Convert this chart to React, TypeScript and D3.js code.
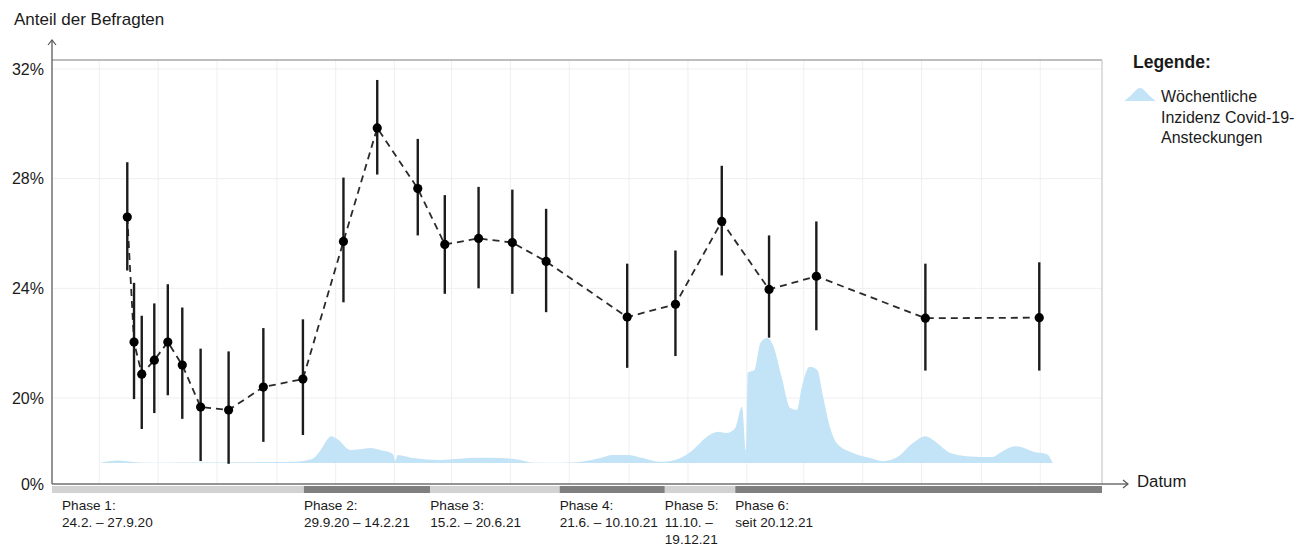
import React from 'react';
import * as d3 from 'd3';

// ---------- data ----------
const surveyDates = [
  '2020-03-30', '2020-04-06', '2020-04-14', '2020-04-27', '2020-05-11', '2020-05-26',
  '2020-06-14', '2020-07-13', '2020-08-18', '2020-09-28', '2020-11-09', '2020-12-14',
  '2021-01-25', '2021-02-22', '2021-03-29', '2021-05-03', '2021-06-07', '2021-08-30',
  '2021-10-19', '2021-12-06', '2022-01-24', '2022-03-14', '2022-07-05', '2022-10-31',
];
const shares = [
  26.6, 22.04, 20.87, 21.38, 22.04, 21.2, 19.67, 19.56, 20.4, 20.69, 25.71, 29.85,
  27.64, 25.6, 25.82, 25.67, 24.98, 22.95, 23.42, 26.44, 23.96, 24.44, 22.91, 22.93,
];
const ciLow = [
  24.65, 19.96, 18.87, 19.45, 20.1, 19.24, 17.7, 17.6, 18.4, 18.65, 23.49, 28.15,
  25.93, 23.8, 24.0, 23.8, 23.13, 21.1, 21.53, 24.47, 22.2, 22.47, 21.0, 21.0,
];
const ciHigh = [
  28.6, 24.2, 23.0, 23.45, 24.15, 23.3, 21.8, 21.7, 22.55, 22.87, 28.04, 31.6,
  29.45, 27.4, 27.7, 27.6, 26.9, 24.9, 25.38, 28.47, 25.93, 26.44, 24.9, 24.95,
];

const incidenceDates = [
  '2020-03-03', '2020-03-12', '2020-03-20', '2020-03-29', '2020-04-12', '2020-05-03',
  '2020-06-13', '2020-07-25', '2020-08-25', '2020-09-20', '2020-10-07', '2020-10-16',
  '2020-10-22', '2020-10-27', '2020-11-03', '2020-11-16', '2020-11-26', '2020-12-07',
  '2020-12-17', '2020-12-30', '2021-01-02', '2021-01-04', '2021-01-20', '2021-02-17',
  '2021-03-10', '2021-03-27', '2021-04-20', '2021-05-11', '2021-05-24', '2021-06-14',
  '2021-07-02', '2021-07-15', '2021-08-02', '2021-08-15', '2021-08-30', '2021-09-15',
  '2021-09-28', '2021-10-06', '2021-10-24', '2021-11-06', '2021-11-19', '2021-11-27',
  '2021-12-02', '2021-12-11', '2021-12-20', '2021-12-27', '2021-12-31', '2022-01-02',
  '2022-01-09', '2022-01-15', '2022-01-22', '2022-01-28', '2022-02-06', '2022-02-15',
  '2022-02-22', '2022-02-27', '2022-03-07', '2022-03-15', '2022-03-21', '2022-03-28',
  '2022-04-04', '2022-04-21', '2022-05-09', '2022-05-22', '2022-06-06', '2022-06-22',
  '2022-07-05', '2022-07-13', '2022-07-31', '2022-08-17', '2022-09-13', '2022-09-20',
  '2022-10-06', '2022-10-11', '2022-10-25', '2022-11-08', '2022-11-14',
];
const incidenceValues = [
  10, 30, 40, 30, 10, 5,
  8, 12, 15, 20, 60, 200,
  350, 430, 380, 210, 220, 240,
  210, 150, 40, 130, 80, 50,
  70, 85, 80, 50, 10, 4,
  8, 25, 80, 130, 130, 80,
  30, 20, 80, 210, 400, 480,
  500, 480, 560, 900, 200, 1450,
  1490, 1920, 2000, 1890, 1380, 880,
  850, 1220, 1540, 1490, 1060, 580,
  320, 160, 80, 30, 95, 320,
  430, 370, 160, 110, 95, 160,
  270, 260, 180, 140, 0,
];

const yTickValues = [20, 24, 28, 32];
const bottomTickLabel = '0%';

const phaseStarts = ['2020-02-24', '2020-09-29', '2021-02-07', '2021-06-21', '2021-10-08', '2021-12-20'];
const phaseLabels = [
  ['Phase 1:', '24.2. – 27.9.20'],
  ['Phase 2:', '29.9.20 – 14.2.21'],
  ['Phase 3:', '15.2. – 20.6.21'],
  ['Phase 4:', '21.6. – 10.10.21'],
  ['Phase 5:', '11.10. –', '19.12.21'],
  ['Phase 6:', 'seit 20.12.21'],
];
const legendLines = ['Wöchentliche', 'Inzidenz Covid-19-', 'Ansteckungen'];

// ---------- layout ----------
const W = 1306;
const H = 546;
const left = 52;
const right = 1102;
const top = 60;
const bottom = 484;
const font = '"Liberation Sans", Arial, Helvetica, sans-serif';
const textColor = '#1a1a1a';

const parse = d3.timeParse('%Y-%m-%d');

export default function App() {
  const x = d3.scaleTime().domain([new Date(2020, 0, 12), new Date(2023, 0, 4)]).range([left, right]);
  const y = d3.scaleLinear().domain([20, 32]).range([398, 69]);
  const yInc = d3.scaleLinear().domain([0, 2000]).range([463, 338]);

  const gridDates = d3.timeMonth.every(2)!.range(new Date(2020, 0, 12), new Date(2022, 11, 31));

  const survey = surveyDates.map((d, i) => ({
    date: parse(d)!,
    v: shares[i],
    lo: ciLow[i],
    hi: ciHigh[i],
  }));
  const inc = incidenceDates.map((d, i) => ({ date: parse(d)!, v: incidenceValues[i] }));

  const areaGen = d3
    .area<{ date: Date; v: number }>()
    .x((d) => x(d.date))
    .y0(yInc(0))
    .y1((d) => yInc(d.v))
    .curve(d3.curveMonotoneX);

  const lineGen = d3
    .line<{ date: Date; v: number }>()
    .x((d) => x(d.date))
    .y((d) => y(d.v));

  const phaseX = phaseStarts.map((d, i) => (i === 0 ? left : x(parse(d)!)));
  const phaseColors = ['#d2d2d2', '#7f7f7f'];

  return (
    <svg
      width={W}
      height={H}
      style={{ position: 'absolute', left: 0, top: 0, background: '#fff' }}
      fontFamily={font}
    >
      {/* y axis title */}
      <text x={14} y={25} fontSize={17} fill={textColor}>
        Anteil der Befragten
      </text>

      {/* vertical grid */}
      {gridDates.map((d, i) => (
        <line key={'vg' + i} x1={x(d)} x2={x(d)} y1={top} y2={bottom} stroke="#efefef" strokeWidth={1} />
      ))}
      {/* horizontal grid */}
      {yTickValues.map((t) => (
        <line key={'hg' + t} x1={left} x2={right} y1={y(t)} y2={y(t)} stroke="#efefef" strokeWidth={1} />
      ))}

      {/* frame */}
      <line x1={left} x2={right} y1={top} y2={top} stroke="#a8a8a8" strokeWidth={1.5} />
      <line x1={right} x2={right} y1={top} y2={bottom} stroke="#c8c8c8" strokeWidth={1.2} />

      {/* incidence area */}
      <path d={areaGen(inc) || ''} fill="#c3e3f6" />

      {/* dashed line */}
      <path d={lineGen(survey) || ''} fill="none" stroke="#2a2a2a" strokeWidth={1.8} strokeDasharray="7 5" />

      {/* error bars */}
      {survey.map((d, i) => (
        <line
          key={'eb' + i}
          x1={x(d.date)}
          x2={x(d.date)}
          y1={y(d.lo)}
          y2={y(d.hi)}
          stroke="#1c1c1c"
          strokeWidth={2.4}
        />
      ))}
      {/* points */}
      {survey.map((d, i) => (
        <circle key={'pt' + i} cx={x(d.date)} cy={y(d.v)} r={4.6} fill="#000" />
      ))}

      {/* y axis */}
      <line x1={left} x2={left} y1={40} y2={bottom} stroke="#707070" strokeWidth={1.5} />
      <path d={`M${left - 4},${45} L${left},${40} L${left + 4},${45}`} fill="none" stroke="#555" strokeWidth={1.2} />
      {yTickValues.map((t) => (
        <text key={'yt' + t} x={44} y={y(t)} dy="0.35em" textAnchor="end" fontSize={16} fill={textColor}>
          {t + '%'}
        </text>
      ))}
      <text x={44} y={bottom} dy="0.35em" textAnchor="end" fontSize={16} fill={textColor}>
        {bottomTickLabel}
      </text>

      {/* x axis */}
      <line x1={left} x2={1128} y1={bottom} y2={bottom} stroke="#707070" strokeWidth={1.5} />
      <path d={`M1123,${bottom - 4} L1128,${bottom} L1123,${bottom + 4}`} fill="none" stroke="#555" strokeWidth={1.2} />
      <text x={1137} y={bottom} dy="0.2em" fontSize={16.8} fill={textColor}>
        Datum
      </text>

      {/* phase bars */}
      {phaseX.map((px, i) => {
        const nx = i < phaseX.length - 1 ? phaseX[i + 1] : right;
        return (
          <rect key={'pb' + i} x={px} y={486} width={nx - px} height={7} fill={phaseColors[i % 2]} />
        );
      })}
      {phaseLabels.map((lines, i) => (
        <text key={'pl' + i} x={i === 0 ? left + 10 : phaseX[i]} y={510} fontSize={13.6} fill={textColor}>
          {lines.map((l, j) => (
            <tspan key={j} x={i === 0 ? left + 10 : phaseX[i]} dy={j === 0 ? 0 : 17}>
              {l}
            </tspan>
          ))}
        </text>
      ))}

      {/* legend */}
      <text x={1133} y={68} fontSize={17.5} fontWeight="bold" fill={textColor}>
        Legende:
      </text>
      <path d="M1124,101 C1132,96 1136,88 1140,88 C1144,88 1148,96 1156,101 Z" fill="#c3e3f6" />
      {legendLines.map((l, i) => (
        <text key={'lg' + i} x={1161} y={102 + i * 20.5} fontSize={16} fill={textColor}>
          {l}
        </text>
      ))}
    </svg>
  );
}
